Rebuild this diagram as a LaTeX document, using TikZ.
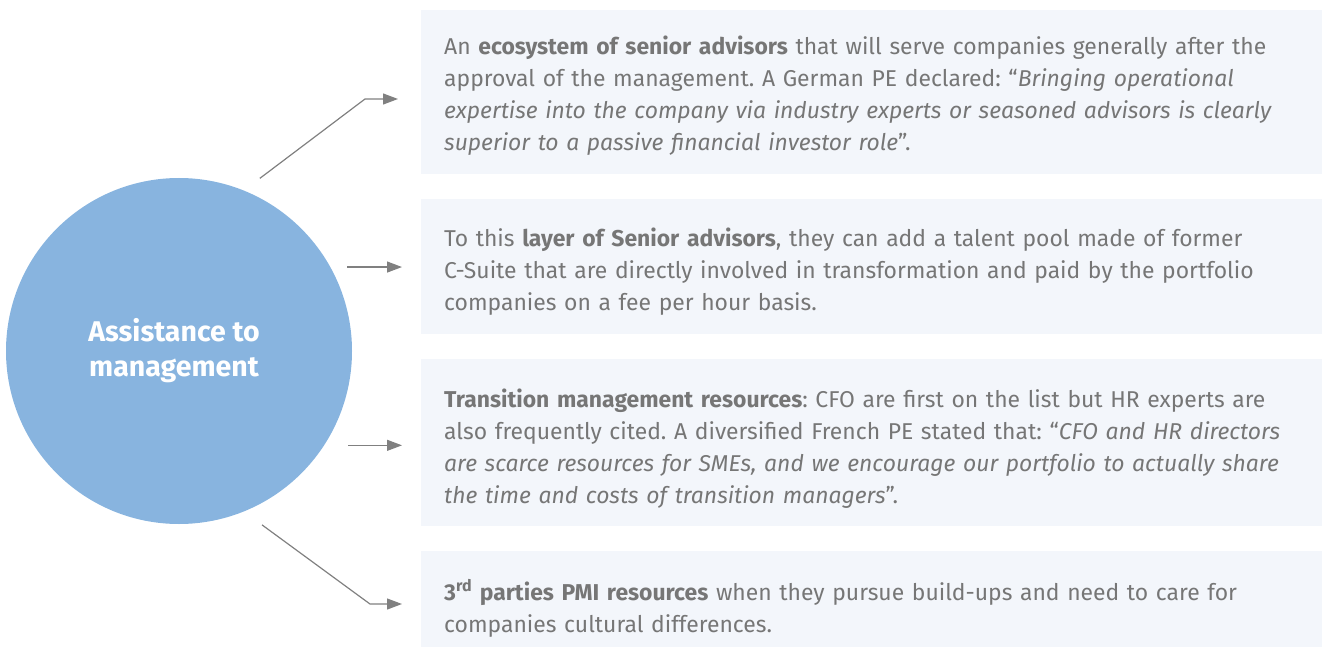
\documentclass[tikz,border=0pt]{standalone}
\usepackage{fontspec}
\setmainfont{Fira Sans}
\usetikzlibrary{positioning,arrows.meta}
\definecolor{circblue}{HTML}{88B4DF}
\definecolor{boxfill}{HTML}{F3F6FB}
\definecolor{txtgray}{HTML}{767676}
\definecolor{arrgray}{HTML}{808080}

\begin{document}
\begin{tikzpicture}[x=1pt, y=-1pt,
    box/.style={fill=boxfill, anchor=north west, minimum width=950pt, inner sep=0pt},
    txt/.style={anchor=west, xshift=23pt, inner sep=0pt, text width=880pt, align=left, text=txtgray, font=\fontsize{22.9}{32}\selectfont\frenchspacing},
    arr/.style={draw=arrgray, line width=1.2pt, -{Triangle[length=15pt,width=11pt]}}]
    \useasboundingbox (0,0) rectangle (1322,647);

    \node [circle, fill=circblue, minimum size=346pt, text=white, align=center, font=\fontsize{28.5}{35}\bfseries\selectfont] (circ) at (179,351) {\hspace*{-10pt}Assistance to\\\hspace*{-10pt}management};

    \node [box, minimum height=164pt] (box1) at (421,10) {};
    \node [box, minimum height=135pt] (box2) at (421,199) {};
    \node [box, minimum height=167pt] (box3) at (421,359) {};
    \node [box, minimum height=112pt] (box4) at (421,551) {};

    \node [txt, yshift=-3pt] (t1) at (box1.west) {An \textbf{ecosystem of senior advisors} that will serve companies generally after the\\
        approval of the management. A German PE declared: “{\itshape Bringing operational\\
        expertise into the company via industry experts or seasoned advisors is clearly\\
        superior to a passive financial investor role}”.};
    \node [txt, yshift=-5pt] (t2) at (box2.west) {To this \textbf{layer of Senior advisors}, they can add a talent pool made of former\\
        C-Suite that are directly involved in transformation and paid by the portfolio\\
        companies on a fee per hour basis.};
    \node [txt, yshift=-6pt] (t3) at (box3.west) {\textbf{Transition management resources}: CFO are first on the list but HR experts are\\
        also frequently cited. A diversified French PE stated that: “{\itshape CFO and HR directors\\
        are scarce resources for SMEs, and we encourage our portfolio to actually share\\
        the time and costs of transition managers}”.};
    \node [txt, yshift=-1pt] (t4) at (box4.west) {\textbf{3\textsuperscript{rd} parties PMI resources} when they pursue build-ups and need to care for\\
        companies cultural differences.};

    % bends of the slanted arrows
    \coordinate (b1) at (365,99);
    \coordinate (b4) at (370,604);

    \draw [arr, shorten <=20pt, shorten >=23pt] (circ.68.6) -- (b1) -- (b1 -| box1.west);
    \draw [arr, shorten <=17pt, shorten >=19pt] (circ.29.4) -- (circ.29.4 -| box2.west);
    \draw [arr, shorten <=24pt, shorten >=19pt] (circ.-33.7) -- (circ.-33.7 -| box3.west);
    \draw [arr, shorten <=22.5pt, shorten >=19pt] (circ.-68.4) -- (b4) -- (b4 -| box4.west);
\end{tikzpicture}
\end{document}
